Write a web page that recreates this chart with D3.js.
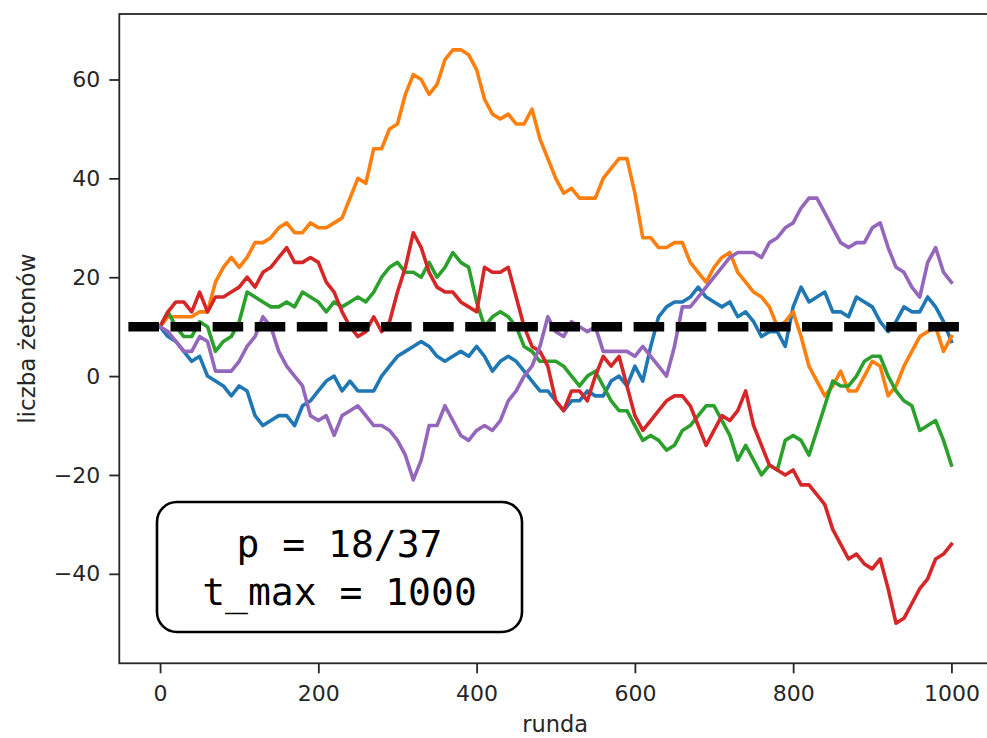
<!DOCTYPE html>
<html>
<head>
<meta charset="utf-8">
<script src="https://cdn.jsdelivr.net/npm/d3@7"></script>
<style>
  body { margin: 0; background: #fff; }
  #chart text { font-family: 'DejaVu Sans', sans-serif; }
</style>
</head>
<body>
<div id="chart"></div>
<script>
const rounds = [0, 10, 20, 30, 40, 50, 60, 70, 80, 90,
    100, 110, 120, 130, 140, 150, 160, 170, 180, 190,
    200, 210, 220, 230, 240, 250, 260, 270, 280, 290,
    300, 310, 320, 330, 340, 350, 360, 370, 380, 390,
    400, 410, 420, 430, 440, 450, 460, 470, 480, 490,
    500, 510, 520, 530, 540, 550, 560, 570, 580, 590,
    600, 610, 620, 630, 640, 650, 660, 670, 680, 690,
    700, 710, 720, 730, 740, 750, 760, 770, 780, 790,
    800, 810, 820, 830, 840, 850, 860, 870, 880, 890,
    900, 910, 920, 930, 940, 950, 960, 970, 980, 990, 1000]

const blue = [10, 8, 7, 5, 3, 4, 0, -1, -2, -4,
    -2, -3, -8, -10, -9, -8, -8, -10, -6, -5,
    -3, -1, 0, -3, -1, -3, -3, -3, 0, 2,
    4, 5, 6, 7, 6, 4, 3, 4, 5, 4,
    6, 4, 1, 3, 4, 3, 1, -1, -3, -3,
    -5, -7, -5, -5, -3, -4, -4, -1, 0, -2,
    2, -1, 6, 12, 14, 15, 15, 16, 18, 16,
    15, 14, 15, 12, 13, 11, 8, 9, 9, 6,
    14, 18, 15, 16, 17, 13, 13, 12, 16, 15,
    14, 11, 9, 11, 14, 13, 13, 16, 14, 11, 7]

const orange = [10, 12, 12, 12, 12, 13, 13, 19, 22, 24,
    22, 24, 27, 27, 28, 30, 31, 29, 29, 31,
    30, 30, 31, 32, 36, 40, 39, 46, 46, 50,
    51, 57, 61, 60, 57, 59, 64, 66, 66, 65,
    62, 56, 53, 52, 53, 51, 51, 54, 48, 44,
    40, 37, 38, 36, 36, 36, 40, 42, 44, 44,
    37, 28, 28, 26, 26, 27, 27, 23, 21, 19,
    22, 24, 25, 21, 19, 17, 16, 14, 10, 11,
    13, 8, 2, -1, -4, -2, 1, -3, -3, 0,
    3, 2, -4, -2, 2, 5, 8, 9, 10, 5, 8]

const green = [10, 13, 10, 8, 8, 11, 10, 5, 7, 8,
    11, 17, 16, 15, 14, 14, 15, 14, 17, 16,
    15, 13, 15, 14, 15, 16, 15, 17, 20, 22,
    23, 21, 21, 20, 23, 20, 22, 25, 23, 22,
    15, 10, 12, 13, 12, 10, 6, 5, 3, 3,
    3, 2, 0, -2, 0, 1, -2, -5, -7, -7,
    -10, -13, -12, -13, -15, -14, -11, -10, -8, -6,
    -6, -9, -12, -17, -14, -17, -20, -18, -19, -13,
    -12, -13, -16, -11, -6, -1, -2, -2, 0, 3,
    4, 4, 0, -3, -5, -6, -11, -10, -9, -13, -18]

const red = [10, 13, 15, 15, 13, 17, 13, 16, 16, 17,
    18, 20, 18, 21, 22, 24, 26, 23, 23, 24,
    23, 19, 17, 13, 10, 8, 9, 12, 9, 11,
    17, 22, 29, 26, 21, 18, 17, 17, 15, 14,
    13, 22, 21, 21, 22, 16, 10, 6, 5, 2,
    -5, -7, -3, -3, -5, 0, 4, 2, 4, -2,
    -8, -11, -9, -7, -5, -4, -4, -6, -10, -14,
    -11, -8, -9, -7, -3, -10, -14, -18, -19, -20,
    -19, -22, -22, -24, -26, -31, -34, -37, -36, -38,
    -39, -37, -43, -50, -49, -46, -43, -41, -37, -36, -34]

const purple = [10, 9, 7, 5, 5, 8, 7, 1, 1, 1,
    3, 6, 8, 12, 10, 5, 2, 0, -2, -8,
    -9, -8, -12, -8, -7, -6, -8, -10, -10, -11,
    -13, -16, -21, -17, -10, -10, -6, -9, -12, -13,
    -11, -10, -11, -9, -5, -3, 0, 2, 6, 12,
    9, 8, 11, 10, 9, 10, 5, 5, 5, 5,
    4, 6, 4, 2, 0, 6, 14, 14, 16, 18,
    20, 22, 24, 25, 25, 25, 24, 27, 28, 30,
    31, 34, 36, 36, 33, 30, 27, 26, 27, 27,
    30, 31, 26, 22, 21, 18, 16, 23, 26, 21, 19]

const seriesColors = ['#1f77b4', '#ff7f0e', '#2ca02c', '#d62728', '#9467bd']
const seriesValues = [blue, orange, green, red, purple]

const xTicks = [0, 200, 400, 600, 800, 1000]
const yTicks = [-40, -20, 0, 20, 40, 60]
const startChips = 10
const startSpan = [-40, 1010]
const infoLines = ['p = 18/37', 't_max = 1000']
const xLabel = 'runda'
const yLabel = 'liczba żetonów'

const W = 987, H = 738
const plot = { left: 119.3, right: 991, top: 14, bottom: 663.3 }
const ink = '#262626'

const svg = d3.select('#chart')
    .append('svg')
    .attr('width', W)
    .attr('height', H)

const x = d3.scaleLinear().domain([-51.5, 1050]).range([plot.left, plot.right])
const y = d3.scaleLinear().domain([-58.1, 73.25]).range([plot.bottom, plot.top])

// axes
const styleAxis = (g) => {
    g.select('.domain').remove()
    g.selectAll('.tick line').attr('stroke', ink).attr('stroke-width', 1.8)
    g.selectAll('.tick text')
        .attr('fill', ink)
        .style('font-size', '22px')
        .style('font-family', "'DejaVu Sans', sans-serif")
}

svg.append('g')
    .attr('transform', 'translate(0,' + plot.bottom + ')')
    .call(d3.axisBottom(x).tickValues(xTicks).tickFormat(d3.format('d')).tickSize(10).tickPadding(12))
    .call(styleAxis)

svg.append('g')
    .attr('transform', 'translate(' + plot.left + ',0)')
    .call(d3.axisLeft(y).tickValues(yTicks).tickFormat(d3.format('d')).tickSize(10).tickPadding(9))
    .call(styleAxis)

// walks
const line = d3.line()
    .x((d, i) => x(rounds[i]))
    .y(d => y(d))

seriesValues.forEach((vals, k) => {
    svg.append('path')
        .datum(vals)
        .attr('d', line)
        .attr('fill', 'none')
        .attr('stroke', seriesColors[k])
        .attr('stroke-width', 3.6)
        .attr('stroke-linejoin', 'round')
        .attr('stroke-linecap', 'square')
})

// starting capital
svg.append('line')
    .attr('x1', x(startSpan[0]))
    .attr('x2', x(startSpan[1]))
    .attr('y1', y(startChips))
    .attr('y2', y(startChips))
    .attr('stroke', '#000')
    .attr('stroke-width', 9.5)
    .attr('stroke-dasharray', '30.6,11.5')

// frame
svg.append('rect')
    .attr('x', plot.left)
    .attr('y', plot.top)
    .attr('width', plot.right - plot.left)
    .attr('height', plot.bottom - plot.top)
    .attr('fill', 'none')
    .attr('stroke', ink)
    .attr('stroke-width', 1.8)

// info box
const box = { x: 157, y: 502, w: 365, h: 130, r: 20 }
svg.append('rect')
    .attr('x', box.x)
    .attr('y', box.y)
    .attr('width', box.w)
    .attr('height', box.h)
    .attr('rx', box.r)
    .attr('fill', '#fff')
    .attr('stroke', '#000')
    .attr('stroke-width', 2.6)

svg.selectAll('.info')
    .data(infoLines)
    .enter()
    .append('text')
    .attr('class', 'info')
    .attr('x', box.x + box.w / 2)
    .attr('y', (d, i) => 557 + i * 48)
    .attr('text-anchor', 'middle')
    .style('font-family', "'DejaVu Sans Mono', monospace")
    .style('font-size', '38px')
    .attr('fill', '#000')
    .text(d => d)

// labels
svg.append('text')
    .attr('x', (plot.left + plot.right) / 2)
    .attr('y', 732)
    .attr('text-anchor', 'middle')
    .attr('fill', ink)
    .style('font-size', '22.5px')
    .text(xLabel)

svg.append('text')
    .attr('transform', 'translate(35,' + (plot.top + plot.bottom) / 2 + ') rotate(-90)')
    .attr('text-anchor', 'middle')
    .attr('fill', ink)
    .style('font-size', '23px')
    .text(yLabel)
</script>
</body>
</html>
